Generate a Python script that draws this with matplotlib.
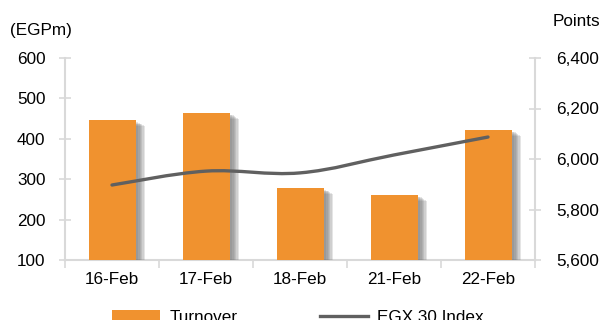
import numpy as np
import matplotlib
matplotlib.use("Agg")
import matplotlib.pyplot as plt
import matplotlib.patheffects as pe
from matplotlib.path import Path
from matplotlib.patches import PathPatch, Patch
from matplotlib.lines import Line2D
from matplotlib.ticker import FuncFormatter

dates = ["16-Feb", "17-Feb", "18-Feb", "21-Feb", "22-Feb"]
turnover = [446, 464, 278, 261, 422]
egx30 = [5897, 5952, 5945, 6016, 6087]

plt.rcParams["font.family"] = ["Liberation Sans", "DejaVu Sans"]
plt.rcParams["font.size"] = 12.3

orange = "#F0922F"
line_col = "#606060"
axis_col = "#D9D9D9"


def smooth_path(xs, ys, t=0.35):
    # Catmull-Rom style bezier through the points, like Excel's smoothed line
    xs = np.asarray(xs, float)
    ys = np.asarray(ys, float)
    verts = [(xs[0], ys[0])]
    codes = [Path.MOVETO]
    n = len(xs)
    for i in range(n - 1):
        p0 = i - 1 if i > 0 else i
        p3 = i + 2 if i + 2 < n else i + 1
        c1 = (xs[i] + (xs[i + 1] - xs[p0]) * t / 2,
              ys[i] + (ys[i + 1] - ys[p0]) * t / 2)
        c2 = (xs[i + 1] - (xs[p3] - xs[i]) * t / 2,
              ys[i + 1] - (ys[p3] - ys[i]) * t / 2)
        verts += [c1, c2, (xs[i + 1], ys[i + 1])]
        codes += [Path.CURVE4] * 3
    return Path(verts, codes)


fig = plt.figure(figsize=(6.01, 3.2), dpi=100)
ax = fig.add_axes([65 / 601, 60 / 320, 470 / 601, 202 / 320])
x = np.arange(len(dates))

# soft blurred-looking shadow: stacked faint shadows
shadow = [pe.SimplePatchShadow(offset=(d, -d * 0.6), shadow_rgbFace="#707070", alpha=0.18)
          for d in (7, 6, 5, 4, 3, 2)]
bars = ax.bar(x, turnover, width=0.5, color=orange, zorder=3)
for b in bars:
    b.set_path_effects(shadow + [pe.Normal()])

ax.set_xlim(-0.5, len(dates) - 0.5)
ax.set_ylim(100, 600)
ax.set_yticks(range(100, 601, 100))
ax.set_xticks(x)
ax.set_xticklabels(dates)
ax.set_xticks(np.arange(-0.5, len(dates), 1), minor=True)
ax.tick_params(axis="x", which="major", length=0, pad=9)
ax.tick_params(axis="x", which="minor", length=6, color=axis_col, width=1.2, direction="out")
ax.tick_params(axis="y", length=8, direction="inout", color=axis_col, width=1.2, pad=10)

for s in ["top", "right"]:
    ax.spines[s].set_visible(False)
for s in ["left", "bottom"]:
    ax.spines[s].set_color(axis_col)
    ax.spines[s].set_linewidth(1.5)

ax2 = ax.twinx()
ax2.set_ylim(5600, 6400)
ax2.set_yticks(range(5600, 6401, 200))
ax2.yaxis.set_major_formatter(FuncFormatter(lambda v, p: f"{int(v):,}"))
ax2.tick_params(axis="y", length=8, direction="inout", color=axis_col, width=1.2, pad=11)
for s in ["top", "left", "bottom"]:
    ax2.spines[s].set_visible(False)
ax2.spines["right"].set_color(axis_col)
ax2.spines["right"].set_linewidth(1.5)

ax2.add_patch(PathPatch(smooth_path(x, egx30), facecolor="none", edgecolor=line_col,
                        lw=2.4, capstyle="round", zorder=4))

fig.text(10 / 601, 1 - 30 / 320, "(EGPm)", ha="left", va="center")
fig.text(600 / 601, 1 - 22 / 320, "Points", ha="right", va="center")

handles = [Patch(facecolor=orange, label="Turnover"),
           Line2D([0], [0], color=line_col, lw=2.4, label="EGX 30 Index")]
fig.legend(handles=handles, loc="center left", bbox_to_anchor=(97 / 601, 3 / 320),
           ncol=2, frameon=False, handlelength=2.8, handleheight=0.6,
           handletextpad=0.55, columnspacing=4.8)

fig.savefig("out.png", dpi=100)
